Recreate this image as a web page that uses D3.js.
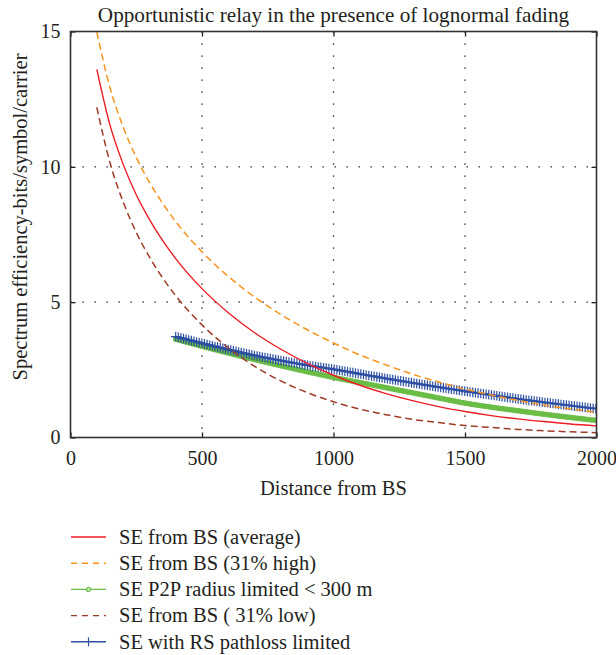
<!DOCTYPE html>
<html>
<head>
<meta charset="utf-8">
<script src="https://cdn.jsdelivr.net/npm/d3@7/dist/d3.min.js"></script>
<style>
  body { margin: 0; background: #fff; }
  svg text { font-family: "Liberation Serif", "Times New Roman", Times, serif; fill: #231f20; }
</style>
</head>
<body>
<div id="chart"></div>
<script>
// distances (m) for the BS curves
const distBS = [100, 150, 200, 250, 300, 350, 400, 500, 600, 700, 800, 900, 1000,
                1100, 1200, 1300, 1400, 1500, 1600, 1700, 1800, 1900, 2000];
const seAverage = [13.6, 11.55, 10.1, 8.97, 8.06, 7.28, 6.61, 5.50, 4.61, 3.87, 3.26, 2.74, 2.30,
                   1.93, 1.62, 1.36, 1.14, 0.96, 0.81, 0.69, 0.59, 0.50, 0.43];
const seHigh = [14.98, 12.93, 11.48, 10.35, 9.43, 8.66, 7.98, 6.86, 5.95, 5.19, 4.54, 3.98, 3.49,
                3.05, 2.68, 2.34, 2.05, 1.79, 1.57, 1.37, 1.20, 1.06, 0.93];
const seLow = [12.20, 10.16, 8.71, 7.58, 6.67, 5.90, 5.24, 4.16, 3.31, 2.63, 2.09, 1.66, 1.32,
               1.05, 0.84, 0.67, 0.55, 0.44, 0.37, 0.30, 0.25, 0.21, 0.18];

// distances (m) for the relay curves
const distRS = [400, 500, 600, 700, 800, 900, 1000, 1100, 1200, 1300, 1400, 1500,
                1600, 1700, 1800, 1900, 2000];
const seP2P = [3.63, 3.37, 3.12, 2.88, 2.65, 2.43, 2.22, 2.03, 1.84, 1.65, 1.46, 1.27,
               1.12, 0.99, 0.86, 0.74, 0.63];
const seRS = [3.73, 3.48, 3.25, 3.03, 2.84, 2.67, 2.52, 2.35, 2.18, 2.02, 1.86, 1.71,
              1.57, 1.43, 1.30, 1.18, 1.06];

const xTicks = [0, 500, 1000, 1500, 2000];
const yTicks = [0, 5, 10, 15];
const gridX = [500, 1000, 1500];
const gridY = [5, 10];

const series = [
  { name: "SE from BS (average)", x: distBS, y: seAverage, color: "#ed1c24", dash: null, mark: null },
  { name: "SE from BS (31% high)", x: distBS, y: seHigh, color: "#f7941d", dash: "7,4", mark: null },
  { name: "SE P2P radius limited < 300 m", x: distRS, y: seP2P, color: "#6abd45", dash: null, mark: "circle" },
  { name: "SE from BS ( 31% low)", x: distBS, y: seLow, color: "#9e3b26", dash: "7,4", mark: null },
  { name: "SE with RS pathloss limited", x: distRS, y: seRS, color: "#2c4fa3", dash: null, mark: "plus" }
];
// draw order: green under blue
const drawOrder = [2, 4, 0, 1, 3];

const W = 616, H = 655;
const margin = { top: 31.5, right: 19.5, bottom: 217.5, left: 70.5 };
const width = W - margin.left - margin.right;
const height = H - margin.top - margin.bottom;

const svg = d3.select('#chart').append('svg')
  .attr('width', W)
  .attr('height', H);

const chart = svg.append('g')
  .attr('transform', `translate(${margin.left},${margin.top})`);

const xScale = d3.scaleLinear().domain([0, 2000]).range([0, width]);
const yScale = d3.scaleLinear().domain([0, 15]).range([height, 0]);

svg.append('defs').append('clipPath').attr('id', 'plotClip')
  .append('rect').attr('width', width).attr('height', height);

// dotted grid
chart.selectAll('.gx').data(gridX).enter().append('line')
  .attr('x1', d => xScale(d)).attr('x2', d => xScale(d))
  .attr('y1', 0).attr('y2', height)
  .attr('stroke', '#111').attr('stroke-width', 1.3)
  .attr('stroke-dasharray', '1.3,10.7');
chart.selectAll('.gy').data(gridY).enter().append('line')
  .attr('y1', d => yScale(d)).attr('y2', d => yScale(d))
  .attr('x1', 0).attr('x2', width)
  .attr('stroke', '#111').attr('stroke-width', 1.3)
  .attr('stroke-dasharray', '1.3,10.7');

// axes with inward ticks
const serif = '"Liberation Serif", "Times New Roman", Times, serif';
const axisStyle = g => {
  g.attr('font-family', null).attr('font-size', null);
  g.select('.domain').remove();
  g.selectAll('.tick line').attr('stroke', '#231f20').attr('stroke-width', 1.3);
  g.selectAll('.tick text').style('font-size', '20px')
    .style('font-family', serif).attr('fill', '#231f20');
};

chart.append('g')
  .attr('transform', `translate(0,${height})`)
  .call(d3.axisBottom(xScale).tickValues(xTicks).tickFormat(d3.format('d'))
    .tickSizeInner(-5).tickSizeOuter(0).tickPadding(13))
  .call(axisStyle);
chart.append('g')
  .call(d3.axisTop(xScale).tickValues(xTicks).tickSizeInner(-5).tickSizeOuter(0).tickFormat(''))
  .call(axisStyle);
chart.append('g')
  .call(d3.axisLeft(yScale).tickValues(yTicks).tickFormat(d3.format('d'))
    .tickSizeInner(-5).tickSizeOuter(0).tickPadding(10))
  .call(axisStyle);
chart.append('g')
  .attr('transform', `translate(${width},0)`)
  .call(d3.axisRight(yScale).tickValues(yTicks).tickSizeInner(-5).tickSizeOuter(0).tickFormat(''))
  .call(axisStyle);

const plot = chart.append('g').attr('clip-path', 'url(#plotClip)');

const line = d3.line()
  .x(d => xScale(d[0]))
  .y(d => yScale(d[1]))
  .curve(d3.curveMonotoneX);

// points spaced evenly along a drawn path, for the dense markers
function pointsAlong(node, step) {
  const total = node.getTotalLength();
  const pts = [];
  for (let l = 0; l <= total + 0.01; l += step) {
    const p = node.getPointAtLength(Math.min(l, total));
    pts.push([p.x, p.y]);
  }
  return pts;
}

drawOrder.forEach(i => {
  const s = series[i];
  const pts = s.x.map((d, k) => [d, s.y[k]]);
  const path = plot.append('path')
    .datum(pts)
    .attr('d', line)
    .attr('fill', 'none')
    .attr('stroke', s.color)
    .attr('stroke-width', s.dash ? 1.5 : 1.4)
    .attr('stroke-dasharray', s.dash);

  if (s.mark === 'circle') {
    const mp = pointsAlong(path.node(), 2.7);
    plot.append('g').selectAll('circle').data(mp).enter().append('circle')
      .attr('cx', d => d[0]).attr('cy', d => d[1]).attr('r', 2.4)
      .attr('fill', s.color).attr('stroke', s.color).attr('stroke-width', 1);
  }
  if (s.mark === 'plus') {
    const mp = pointsAlong(path.node(), 2.7);
    const r = 4.8;
    plot.append('path')
      .attr('d', mp.map(p => `M${p[0] - r},${p[1]}h${2 * r}M${p[0]},${p[1] - r}v${2 * r}`).join(''))
      .attr('fill', 'none')
      .attr('stroke', s.color)
      .attr('stroke-width', 1.2);
  }
});

// frame
chart.append('rect')
  .attr('width', width).attr('height', height)
  .attr('fill', 'none').attr('stroke', '#333').attr('stroke-width', 1.6);

// title and axis labels
svg.append('text')
  .attr('x', margin.left + width / 2).attr('y', 21.5)
  .attr('text-anchor', 'middle')
  .style('font-size', '21.2px')
  .text('Opportunistic relay in the presence of lognormal fading');

svg.append('text')
  .attr('x', margin.left + width / 2).attr('y', 494.5)
  .attr('text-anchor', 'middle')
  .style('font-size', '20.5px')
  .text('Distance from BS');

svg.append('text')
  .attr('transform', 'rotate(-90)')
  .attr('x', -217).attr('y', 27)
  .attr('text-anchor', 'middle')
  .style('font-size', '20.5px')
  .text('Spectrum efficiency-bits/symbol/carrier');

// legend
const legend = svg.append('g').attr('transform', 'translate(71,537)');
const rowH = 26.2;
series.forEach((s, i) => {
  const g = legend.append('g').attr('transform', `translate(0,${i * rowH})`);
  g.append('line')
    .attr('x1', 0).attr('x2', 35).attr('y1', 0).attr('y2', 0)
    .attr('stroke', s.color).attr('stroke-width', 1.4)
    .attr('stroke-dasharray', s.dash ? '6,5' : null);
  if (s.mark === 'circle') {
    g.append('circle').attr('cx', 17.5).attr('cy', 0).attr('r', 2)
      .attr('fill', '#d8eccb').attr('stroke', s.color).attr('stroke-width', 1.2);
  }
  if (s.mark === 'plus') {
    g.append('path').attr('d', 'M17.5,-4.5v9')
      .attr('stroke', s.color).attr('stroke-width', 1.2);
  }
  g.append('text')
    .attr('x', 48).attr('y', 0).attr('dy', '0.33em')
    .style('font-size', '20.5px')
    .text(s.name);
});
</script>
</body>
</html>
